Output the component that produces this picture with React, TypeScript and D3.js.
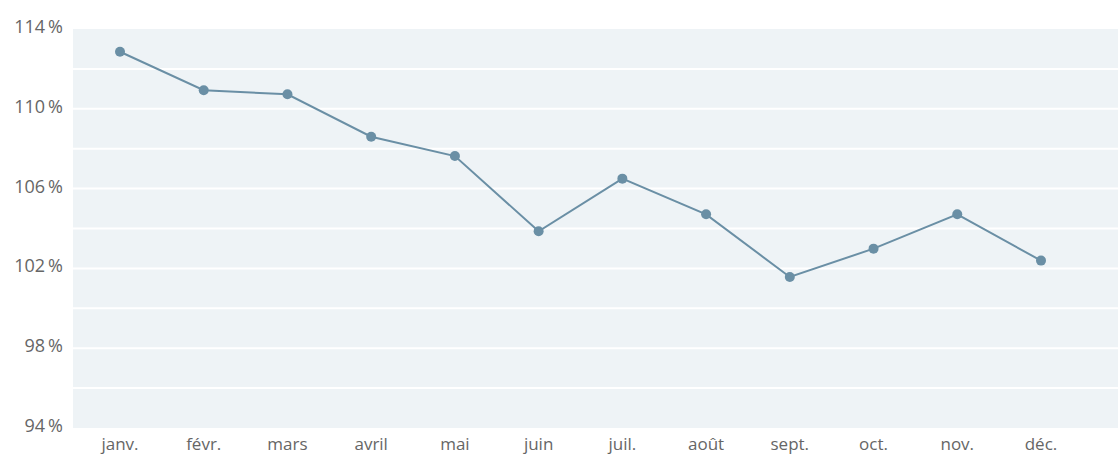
import React from 'react';
import * as d3 from 'd3';

const months = ['janv.', 'févr.', 'mars', 'avril', 'mai', 'juin', 'juil.', 'août', 'sept.', 'oct.', 'nov.', 'déc.'];
const values = [112.86, 110.93, 110.73, 108.6, 107.63, 103.86, 106.5, 104.71, 101.57, 102.99, 104.71, 102.39];
const gridTicks = [96, 98, 100, 102, 104, 106, 108, 110, 112];
const labelTicks = [94, 98, 102, 106, 110, 114];

const W = 1118;
const H = 454;
const plotLeft = 73;
const plotTop = 29;
const plotBottom = 428;

const App = () => {
  const x = d3.scalePoint<string>().domain(months).range([120, 1041]);
  const y = d3.scaleLinear().domain([94, 114]).range([plotBottom, plotTop]);

  const line = d3
    .line<number>()
    .x((d, i) => x(months[i]) as number)
    .y((d) => y(d));

  const font = '"Open Sans", "Noto Sans", sans-serif';

  return (
    <div style={{ position: 'absolute', left: 0, top: 0, background: 'white' }}>
      <svg width={W} height={H} style={{ display: 'block' }}>
        <rect x={plotLeft} y={plotTop} width={W - plotLeft} height={plotBottom - plotTop} fill="#eef3f6" />
        {gridTicks.map((t) => (
          <line key={t} x1={plotLeft} x2={W} y1={y(t)} y2={y(t)} stroke="#ffffff" strokeWidth={2} />
        ))}
        {labelTicks.map((t) => (
          <text
            key={t}
            x={63}
            y={y(t) + 4}
            textAnchor="end"
            fontFamily={font}
            fontSize={18}
            fill="#666666"
          >
            {t}&#8201;%
          </text>
        ))}
        {months.map((m) => (
          <text
            key={m}
            x={x(m)}
            y={450}
            textAnchor="middle"
            fontFamily={font}
            fontSize={17}
            fill="#666666"
          >
            {m}
          </text>
        ))}
        <path d={line(values) || ''} fill="none" stroke="#6a8fa5" strokeWidth={2} />
        {values.map((v, i) => (
          <circle key={i} cx={x(months[i])} cy={y(v)} r={5} fill="#6a8fa5" />
        ))}
      </svg>
    </div>
  );
};

export default App;
